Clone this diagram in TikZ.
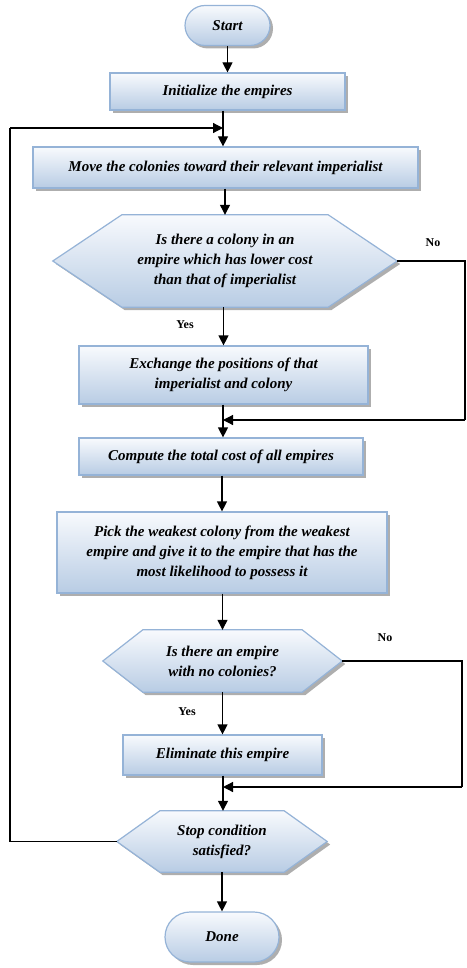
\documentclass[tikz,border=0pt]{standalone}
\usepackage{fontspec}
\setmainfont{Liberation Serif}
\usetikzlibrary{arrows.meta,shadows,calc}
\pgfdeclarelayer{background}
\pgfsetlayers{background,main}
\definecolor{boxtop}{RGB}{248,250,253}
\definecolor{boxbot}{RGB}{184,204,228}
\definecolor{boxline}{RGB}{149,179,215}
\tikzset{
  x=1pt, y=-1pt,
  fillstyle/.style={top color=boxtop, bottom color=boxbot, draw=boxline, line width=1.2pt,
    drop shadow={shadow xshift=3pt, shadow yshift=-3pt, fill=black!45, opacity=0.7}},
  txt/.style={font=\fontsize{15}{20}\selectfont\bfseries\itshape, align=center, text=black},
  procbox/.style={fillstyle, txt, rectangle, inner sep=0pt},
  termbox/.style={fillstyle, txt, rectangle, rounded corners=20pt, inner sep=0pt},
  hextext/.style={txt, rectangle, inner sep=0pt},
  hexbox/.style={fillstyle},
  flow/.style={line width=1.2pt, -{Triangle[length=10pt,width=10pt]}},
  plainline/.style={line width=1.2pt},
  lbl/.style={font=\fontsize{12}{14}\selectfont\bfseries}
}
\newcommand{\hexagon}[2]{%
  \begin{pgfonlayer}{background}
  \path[hexbox] (#1.west) -- ([xshift=#2pt]#1.north west) -- ([xshift=-#2pt]#1.north east)
    -- (#1.east) -- ([xshift=-#2pt]#1.south east) -- ([xshift=#2pt]#1.south west) -- cycle;
  \end{pgfonlayer}}
\begin{document}
\begin{tikzpicture}
\useasboundingbox (0,0) rectangle (466,968);
\node[termbox, minimum width=85pt, minimum height=40pt] (start) at (227.5,25.5) {Start};
\node[procbox, minimum width=235pt, minimum height=37pt] (init) at (227.5,91.5) {Initialize the empires};
\node[procbox, minimum width=385pt, minimum height=41pt] (move) at (225.5,167.5) {Move the colonies toward their relevant imperialist};
\node[hextext, minimum width=344pt, minimum height=92pt] (h1) at (225,261) {Is there a colony in an\\empire which has lower cost\\than that of imperialist};
\hexagon{h1}{69}
\node[procbox, minimum width=289pt, minimum height=58pt] (exch) at (223.5,375) {Exchange the positions of that\\imperialist and colony};
\node[procbox, minimum width=284pt, minimum height=37pt] (comp) at (221,456.5) {Compute the total cost of all empires};
\node[procbox, minimum width=330pt, minimum height=81pt] (pick) at (222,552.5) {Pick the weakest colony from the weakest\\empire and give it to the empire that has the\\most likelihood to possess it};
\node[hextext, minimum width=239pt, minimum height=62pt] (h2) at (222.5,661) {Is there an empire\\with no colonies?};
\hexagon{h2}{40}
\node[procbox, minimum width=199pt, minimum height=40pt] (elim) at (222.5,755) {Eliminate this empire};
\node[hextext, minimum width=210pt, minimum height=61pt] (h3) at (222,841.5) {Stop condition\\satisfied?};
\hexagon{h3}{43}
\node[termbox, rounded corners=25pt, minimum width=114pt, minimum height=50pt] (done) at (222,937) {Done};

\coordinate (loopin) at (223,128);
\coordinate (join1) at (223,420);
\coordinate (join2) at (223,787);

\draw[flow] (start.south) -- (start.south |- init.north);
\draw[flow] (init.south -| loopin) -- (loopin |- move.north);
\draw[flow] (move.south -| h1.north) -- (h1.north);
\draw[flow] (h1.south -| exch.north) -- (exch.north);
\draw[flow] (exch.south -| join1) -- (join1 |- comp.north);
\draw[flow] (comp.south -| pick.north) -- (pick.north);
\draw[flow] (pick.south -| h2.north) -- (h2.north);
\draw[flow] (h2.south -| elim.north) -- (elim.north);
\draw[flow] (elim.south -| join2) -- (join2 |- h3.north);
\draw[flow] (h3.south -| done.north) -- (done.north);

\draw[plainline] (h1.east) -- (465,261) -- (465,420);
\draw[flow] (465,420) -- (join1);
\draw[plainline] (h2.east) -- (462,661) -- (462,787);
\draw[flow] (462,787) -- (join2);
\draw[plainline] (h3.west) -- (10,841.5) -- (10,128);
\draw[flow] (10,128) -- (loopin);

\node[lbl] (no1) at (433,243) {No};
\node[lbl] (yes1) at (185,325) {Yes};
\node[lbl] (no2) at (385,638) {No};
\node[lbl] (yes2) at (187,712) {Yes};
\end{tikzpicture}
\end{document}
